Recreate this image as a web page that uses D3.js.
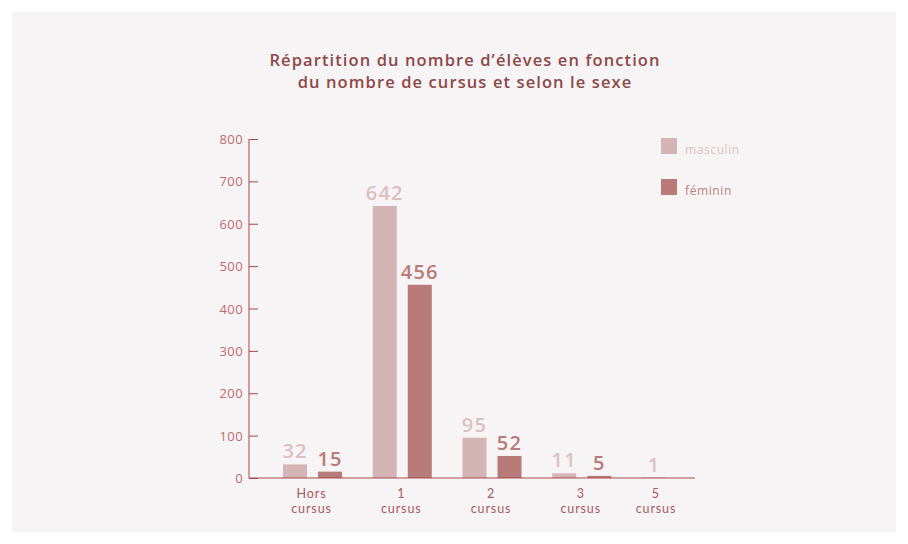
<!DOCTYPE html>
<meta charset="utf-8">
<style>
    body { margin: 0; background: #fff; font-family: "Open Sans", Lato, sans-serif; }
    .title { font-weight: 600; fill: #8e4848; font-size: 16.5px; letter-spacing: 1.1px; }
    .tick text { fill: #c06a6c; font-size: 13px; font-family: "Open Sans", sans-serif; letter-spacing: 0.4px; }
    .val { font-weight: 600; font-size: 20px; letter-spacing: 1.2px; }
    .cat { fill: #a85a5d; font-size: 12.5px; letter-spacing: 0.9px; font-family: Lato, sans-serif; }
    .leg { font-size: 12px; letter-spacing: 0.6px; }
</style>
<body>
<script src="https://d3js.org/d3.v7.min.js"></script>
<script>
    var categories = ["Hors cursus", "1 cursus", "2 cursus", "3 cursus", "5 cursus"];
    var masculin = [32, 642, 95, 11, 1];
    var feminin = [15, 456, 52, 5, null];
    var yTicks = [0, 100, 200, 300, 400, 500, 600, 700, 800];

    var color = { masculin: "#d4b4b5", feminin: "#b87b79" };
    var labelColor = { masculin: "#dcc0c1", feminin: "#b87b79" };

    var svg = d3.select("body").append("svg").attr("width", 908).attr("height", 544);
    svg.append("rect").attr("x", 12).attr("y", 12).attr("width", 884).attr("height", 520).attr("fill", "#f6f4f5");

    svg.append("text").attr("class", "title").attr("x", 465).attr("y", 66)
        .attr("text-anchor", "middle").text("Répartition du nombre d’élèves en fonction");
    svg.append("text").attr("class", "title").attr("x", 465).attr("y", 88)
        .attr("text-anchor", "middle").text("du nombre de cursus et selon le sexe");

    var y = d3.scaleLinear().domain([0, 800]).range([478, 139]);

    // group band: 59px wide groups, ~89.7px step
    var x0 = d3.scaleBand().domain(categories).range([283, 701]).paddingInner(0.342).paddingOuter(0);
    var x1 = d3.scaleBand().domain(["masculin", "feminin"]).range([0, x0.bandwidth()]).paddingInner(0.3143);

    var rows = categories.map(function(c, i) {
        return { cat: c, vals: [
            { key: "masculin", v: masculin[i] },
            { key: "feminin", v: feminin[i] }
        ].filter(function(d) { return d.v != null; }) };
    });

    // y axis
    var yAxis = svg.append("g").attr("transform", "translate(249,0)")
        .call(d3.axisRight(y).tickValues(yTicks).tickSize(9).tickFormat(d3.format("d")));
    yAxis.select(".domain").attr("stroke", "#a8494c").attr("d", "M0,139V478");
    yAxis.selectAll(".tick line").attr("stroke", "#a8494c");
    yAxis.selectAll(".tick text").attr("x", -6).attr("text-anchor", "end").attr("dy", "0.35em");

    var g = svg.append("g");
    var grp = g.selectAll(".grp").data(rows).enter().append("g")
        .attr("transform", function(d) { return "translate(" + x0(d.cat) + ",0)"; });

    grp.selectAll("rect").data(function(d) { return d.vals; }).enter().append("rect")
        .attr("x", function(d) { return x1(d.key); })
        .attr("width", x1.bandwidth())
        .attr("y", function(d) { return y(d.v); })
        .attr("height", function(d) { return y(0) - y(d.v); })
        .attr("fill", function(d) { return color[d.key]; });

    grp.selectAll(".val").data(function(d) { return d.vals; }).enter().append("text")
        .attr("class", "val")
        .attr("x", function(d) { return x1(d.key) + x1.bandwidth() / 2; })
        .attr("y", function(d) { return y(d.v) - 6; })
        .attr("text-anchor", "middle")
        .attr("fill", function(d) { return labelColor[d.key]; })
        .text(function(d) { return d.v; });

    // x axis line
    svg.append("line").attr("x1", 249).attr("x2", 695).attr("y1", y(0)).attr("y2", y(0))
        .attr("stroke", "#a8494c").attr("stroke-width", 1);

    // category labels
    grp.each(function(d) {
        var cx = d.vals.length === 2 ? x0.bandwidth() / 2 - 1 : x1("masculin") + x1.bandwidth() / 2 + 2;
        var parts = d.cat.split(" ");
        var t = d3.select(this).append("text").attr("class", "cat").attr("text-anchor", "middle");
        parts.forEach(function(p, i) {
            t.append("tspan").attr("x", cx).attr("y", 498 + i * 15).text(p);
        });
    });

    // legend
    var leg = svg.append("g").attr("transform", "translate(661,138)");
    ["masculin", "feminin"].forEach(function(k, i) {
        leg.append("rect").attr("x", 0).attr("y", i * 41).attr("width", 16).attr("height", 16).attr("fill", color[k]);
        leg.append("text").attr("class", "leg").attr("x", 24).attr("y", i * 41 + 16)
            .attr("fill", k === "masculin" ? "#dcc0c1" : "#c07f7e")
            .text(k === "masculin" ? "masculin" : "féminin");
    });
</script>
</body>
